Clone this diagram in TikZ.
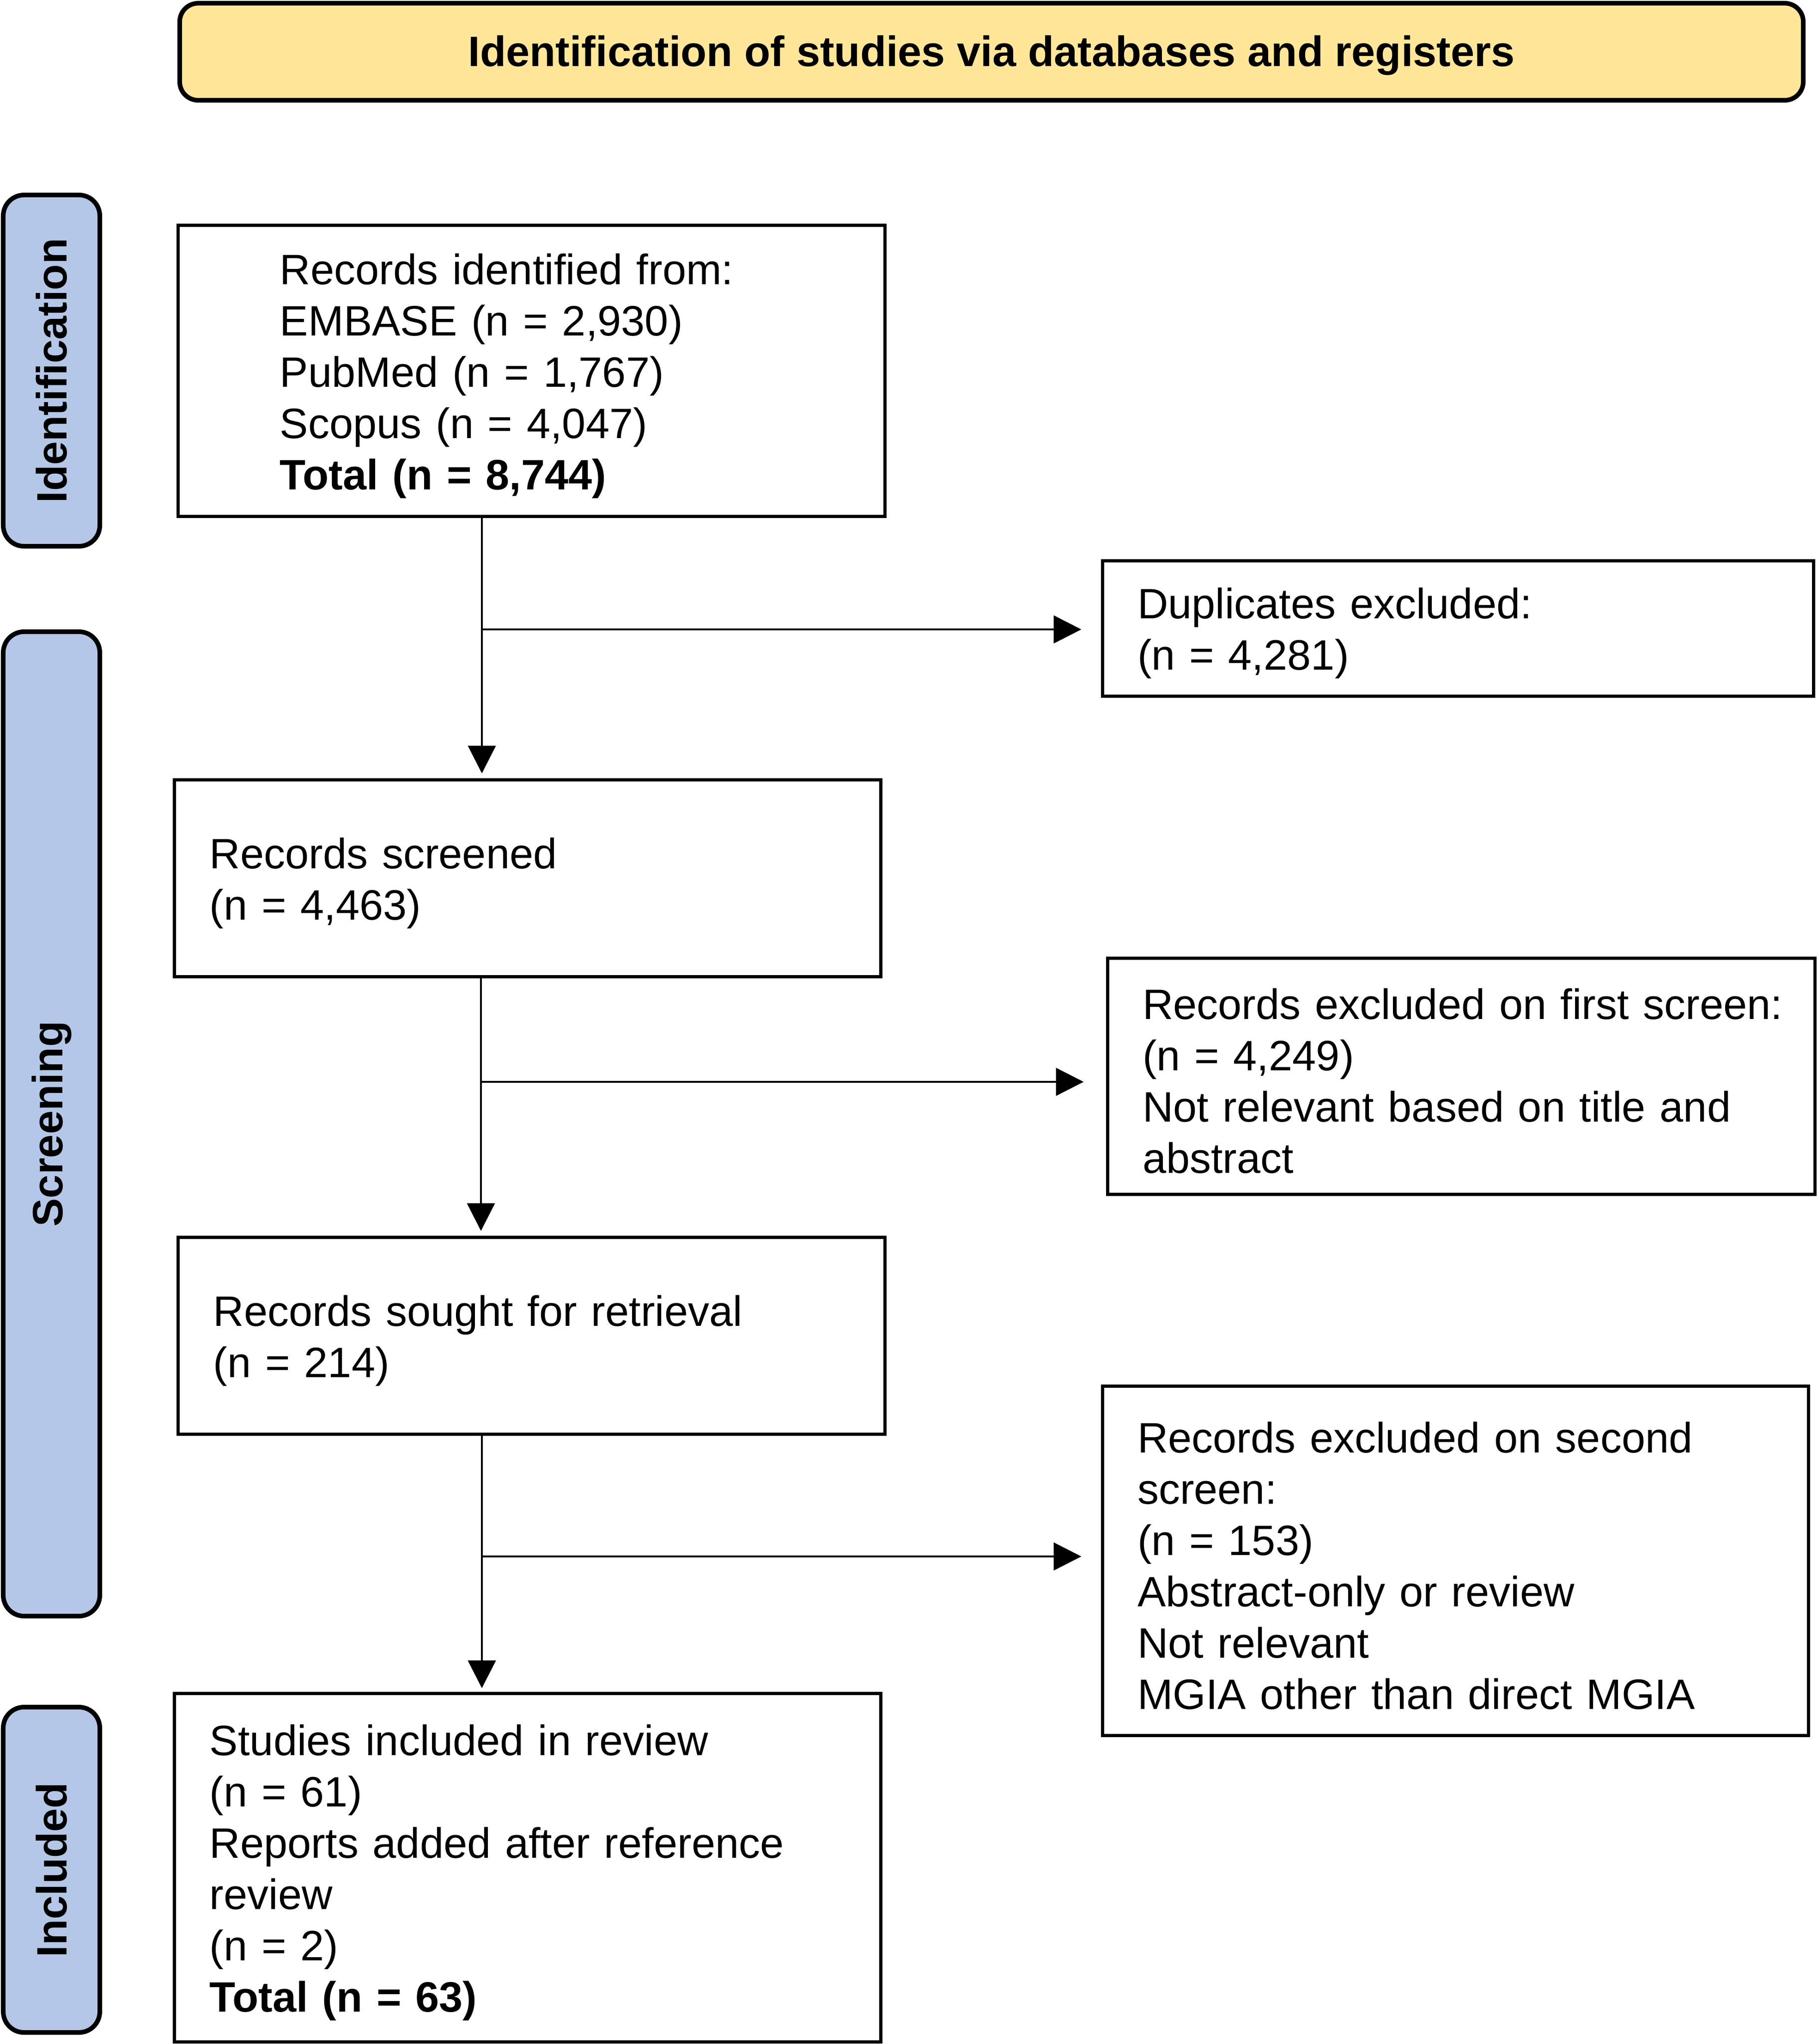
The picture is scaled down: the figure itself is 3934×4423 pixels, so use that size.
\documentclass[tikz,border=0pt]{standalone}
\usepackage{fontspec}
\setmainfont{Liberation Sans}
\usetikzlibrary{arrows.meta,calc}
\definecolor{banneryellow}{HTML}{FFE699}
\definecolor{sideblue}{HTML}{B4C7E7}
\begin{document}
\begin{tikzpicture}[x=0.2pt,y=-0.2pt,
  every node/.style={font=\fontsize{18.4}{22.2}\selectfont},
  flowbox/.style={draw, line width=1.4pt, rectangle, inner sep=0pt},
  flowtext/.style={align=left, inner ysep=0pt, inner xsep=15.2pt, yshift=-2.2pt},
  bannerbox/.style={draw, line width=2pt, fill=banneryellow, rounded corners=8pt,
    font=\fontsize{18.4}{22.2}\selectfont\bfseries, minimum width=702.8pt, minimum height=42pt, inner sep=0pt},
  sidebar/.style={draw, line width=2pt, fill=sideblue, rounded corners=9pt, rotate=90,
    minimum height=41.8pt, font=\fontsize{18.4}{22.2}\selectfont\bfseries, inner sep=0pt},
  conn/.style={line width=0.9pt, -{Triangle[length=12pt,width=12pt]}}]
\useasboundingbox (0,0) rectangle (3934,4423);

% banner and phase bars
\node[bannerbox] (banner) at (2146,112) {\raisebox{-1.6pt}[\height][\depth]{Identification of studies via databases and registers}};
\node[sidebar, minimum width=152pt] (sideid) at (111.5,802) {Identification};
\node[sidebar, minimum width=426pt] (sidescr) at (111.5,2432) {Screening};
\node[sidebar, minimum width=140.8pt] (sideinc) at (111.5,4046) {Included};

% boxes
\node[flowbox, minimum width=305.8pt, minimum height=125.8pt] (b1) at (1150.5,802.5) {};
\node[flowbox, minimum width=307.8pt, minimum height=58.6pt] (dup) at (3155.5,1359.5) {};
\node[flowbox, minimum width=305.6pt, minimum height=85.2pt] (scr) at (1142,1900) {};
\node[flowbox, minimum width=306.2pt, minimum height=102.2pt] (ex1) at (3162.5,2328.5) {};
\node[flowbox, minimum width=305.8pt, minimum height=85.2pt] (sgt) at (1150.5,2890) {};
\node[flowbox, minimum width=305.6pt, minimum height=151.2pt] (ex2) at (3150,3377) {};
\node[flowbox, minimum width=305.6pt, minimum height=150.8pt] (inc) at (1142,4041) {};

% box texts
\node[flowtext, inner xsep=44pt, text width=217.8pt] (b1t) at (b1.center)
  {Records identified from:\\EMBASE (n = 2,930)\\PubMed (n = 1,767)\\Scopus (n = 4,047)\\\textbf{Total (n = 8,744)}};
\node[flowtext, text width=277.4pt] (dupt) at (dup.center)
  {Duplicates excluded:\\(n = 4,281)};
\node[flowtext, text width=275.2pt] (scrt) at (scr.center)
  {Records screened\\(n = 4,463)};
\node[flowtext, text width=275.8pt] (ex1t) at (ex1.center)
  {\mbox{Records excluded on first screen:}\\(n = 4,249)\\\mbox{Not relevant based on title and}\\abstract};
\node[flowtext, text width=275.4pt] (sgtt) at (sgt.center)
  {Records sought for retrieval\\(n = 214)};
\node[flowtext, text width=275.2pt] (ex2t) at (ex2.center)
  {\mbox{Records excluded on second}\\screen:\\(n = 153)\\Abstract-only or review\\Not relevant\\\mbox{MGIA other than direct MGIA}};
\node[flowtext, text width=275.2pt] (inct) at (inc.center)
  {Studies included in review\\(n = 61)\\\mbox{Reports added after reference}\\review\\(n = 2)\\\textbf{Total (n = 63)}};

% connectors
\coordinate (j1) at (1043,1362);
\coordinate (j2) at (1041,2341);
\coordinate (j3) at (1043,3368);
\draw[conn, shorten >=2pt] (b1.south -| j1) -- (scr.north -| j1);
\draw[conn, shorten >=8.4pt] (j1) -- (dup.west |- j1);
\draw[conn, shorten >=2pt] (scr.south -| j2) -- (sgt.north -| j2);
\draw[conn, shorten >=9.6pt] (j2) -- (ex1.west |- j2);
\draw[conn, shorten >=1.5pt] (sgt.south -| j3) -- (inc.north -| j3);
\draw[conn, shorten >=8.4pt] (j3) -- (ex2.west |- j3);
\end{tikzpicture}
\end{document}
